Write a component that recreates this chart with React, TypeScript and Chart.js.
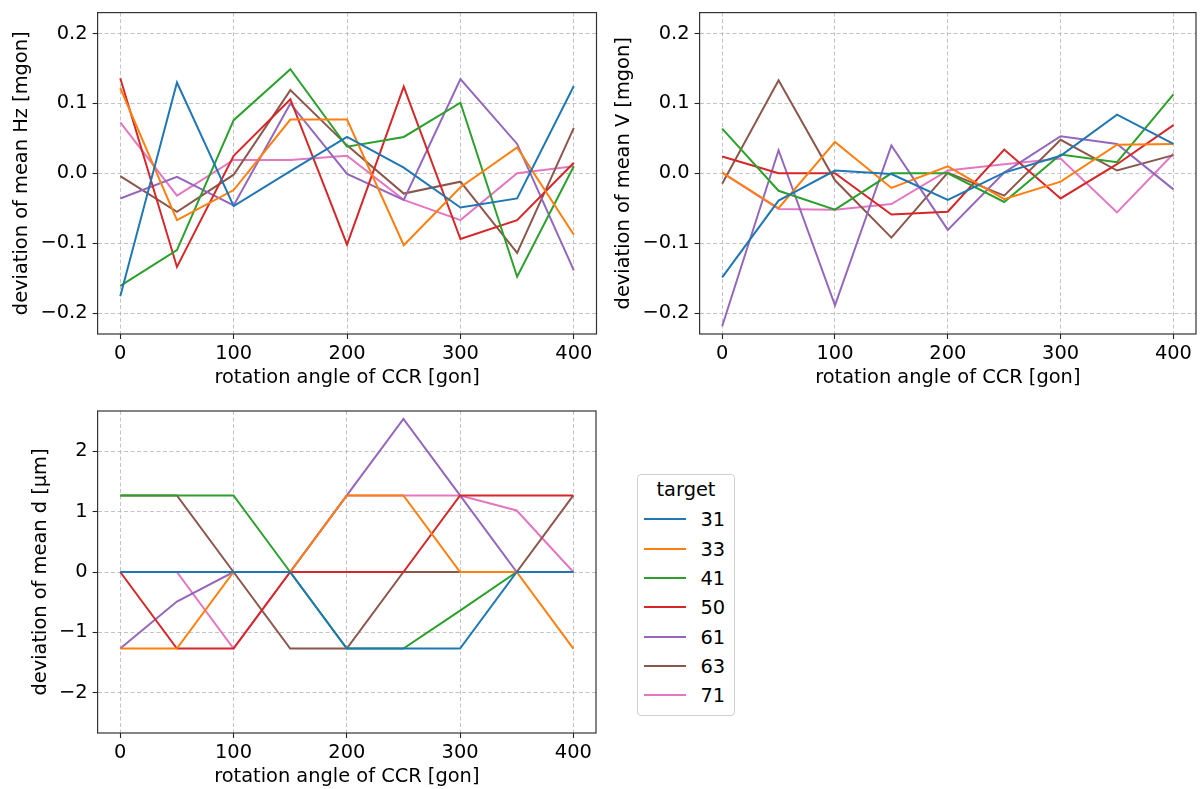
import React, { useEffect, useRef } from "react";
import { Chart, registerables } from "chart.js";

Chart.register(...registerables);

// ---------- data ----------
const angles = [0, 50, 100, 150, 200, 250, 300, 350, 400];
const targets = ["31", "33", "41", "50", "61", "63", "71"];
const colors = ["#1f77b4", "#ff7f0e", "#2ca02c", "#d62728", "#9467bd", "#8c564b", "#e377c2"];

const xTicks = [0, 100, 200, 300, 400];
const xTickLabels = ["0", "100", "200", "300", "400"];
const mgonTicks = [-0.2, -0.1, 0, 0.1, 0.2];
const mgonTickLabels = ["\u22120.2", "\u22120.1", "0.0", "0.1", "0.2"];
const umTicks = [-2, -1, 0, 1, 2];
const umTickLabels = ["\u22122", "\u22121", "0", "1", "2"];

const xTitle = "rotation angle of CCR [gon]";
const hzTitle = "deviation of mean Hz [mgon]";
const vTitle = "deviation of mean V [mgon]";
const dTitle = "deviation of mean d [µm]";

// deviation of mean Hz [mgon]
const hz31 = [-0.176, 0.13, -0.047, 0.003, 0.052, 0.008, -0.049, -0.036, 0.125];
const hz33 = [0.122, -0.067, -0.024, 0.077, 0.077, -0.103, -0.02, 0.037, -0.088];
const hz41 = [-0.161, -0.11, 0.076, 0.149, 0.038, 0.052, 0.101, -0.148, 0.01];
const hz50 = [0.136, -0.134, 0.025, 0.106, -0.102, 0.124, -0.094, -0.067, 0.015];
const hz61 = [-0.036, -0.005, -0.046, 0.1, -0.001, -0.038, 0.135, 0.042, -0.139];
const hz63 = [-0.004, -0.055, -0.002, 0.119, 0.04, -0.029, -0.012, -0.114, 0.065];
const hz71 = [0.073, -0.032, 0.019, 0.019, 0.025, -0.038, -0.067, 0.0, 0.01];

// deviation of mean V [mgon]
const v31 = [-0.149, -0.039, 0.004, -0.001, -0.038, 0.001, 0.025, 0.084, 0.042];
const v33 = [0.001, -0.05, 0.045, -0.021, 0.01, -0.037, -0.012, 0.041, 0.042];
const v41 = [0.064, -0.025, -0.052, 0.0, 0.0, -0.041, 0.027, 0.016, 0.113];
const v50 = [0.024, 0.0, 0.0, -0.059, -0.055, 0.034, -0.036, 0.013, 0.069];
const v61 = [-0.219, 0.033, -0.189, 0.04, -0.081, 0.001, 0.053, 0.042, -0.023];
const v63 = [-0.015, 0.133, -0.01, -0.092, 0.001, -0.032, 0.048, 0.004, 0.026];
const v71 = [0.001, -0.051, -0.052, -0.044, 0.004, 0.013, 0.021, -0.056, 0.028];

// deviation of mean d [µm]
const d31 = [0, 0, 0, 0, -1.27, -1.27, -1.27, 0, 0];
const d33 = [-1.27, -1.27, 0, 0, 1.27, 1.27, 0, 0, -1.27];
const d41 = [1.27, 1.27, 1.27, 0, -1.27, -1.27, -0.64, 0, 0];
const d50 = [0, -1.27, -1.27, 0, 0, 0, 1.27, 1.27, 1.27];
const d61 = [-1.27, -0.49, 0, 0, 1.27, 2.54, 1.27, 0, 0];
const d63 = [1.27, 1.27, 0, -1.27, -1.27, 0, 0, 0, 1.27];
const d71 = [0, 0, -1.27, 0, 1.27, 1.27, 1.27, 1.02, 0];

const hzSeries = [hz31, hz33, hz41, hz50, hz61, hz63, hz71];
const vSeries = [v31, v33, v41, v50, v61, v63, v71];
const dSeries = [d31, d33, d41, d50, d61, d63, d71];

// ---------- styling ----------
const FONT = "'DejaVu Sans', sans-serif";
const FS = 19.4;

const spinePlugin = {
  id: "spines",
  afterDatasetsDraw(chart: any) {
    const { ctx, chartArea } = chart;
    ctx.save();
    ctx.strokeStyle = "#333";
    ctx.lineWidth = 1.2;
    ctx.strokeRect(chartArea.left, chartArea.top, chartArea.right - chartArea.left, chartArea.bottom - chartArea.top);
    ctx.restore();
  },
};

type PanelProps = {
  left: number;
  top: number;
  width: number;
  height: number;
  padTop: number;
  padRight: number;
  series: number[][];
  yMin: number;
  yMax: number;
  yTicks: number[];
  yTickLabels: string[];
  yTitle: string;
  yTitlePad: number;
};

function zeroPad(s: any) {
  s.paddingTop = 0;
  s.paddingBottom = 0;
  s.paddingLeft = 0;
  s.paddingRight = 0;
}

function Panel(p: PanelProps) {
  const ref = useRef<HTMLCanvasElement>(null);
  useEffect(() => {
    if (!ref.current) return;
    const gridCommon = {
      color: "rgba(176,176,176,0.75)",
      lineWidth: 1,
      drawTicks: true,
      tickLength: 5,
      tickColor: "#222",
      tickWidth: 1.1,
      tickBorderDash: [],
    };
    const borderCommon = { display: false, dash: [4, 2.5] };
    const chart = new Chart(ref.current, {
      type: "line",
      data: {
        datasets: p.series.map((vals, i) => ({
          label: targets[i],
          data: angles.map((a, j) => ({ x: a, y: vals[j] })),
          borderColor: colors[i],
          backgroundColor: colors[i],
          borderWidth: 2,
          pointRadius: 0,
          fill: false,
          tension: 0,
        })),
      },
      options: {
        animation: false,
        responsive: false,
        maintainAspectRatio: false,
        layout: { padding: { left: 0, top: p.padTop, right: p.padRight, bottom: 0 } },
        plugins: { legend: { display: false }, tooltip: { enabled: false } },
        scales: {
          x: {
            type: "linear",
            min: -20,
            max: 420,
            afterBuildTicks: (s: any) => {
              s.ticks = xTicks.map((v) => ({ value: v }));
            },
            afterFit: (s: any) => {
              s.height = 56;
              zeroPad(s);
            },
            ticks: {
              callback: (_v: any, i: number) => xTickLabels[i],
              font: { family: FONT, size: FS },
              color: "#000",
              padding: 3,
              maxRotation: 0,
            },
            title: {
              display: true,
              text: xTitle,
              font: { family: FONT, size: FS },
              color: "#000",
              padding: { top: 0, bottom: 0.5 },
            },
            grid: gridCommon,
            border: borderCommon,
          },
          y: {
            type: "linear",
            min: p.yMin,
            max: p.yMax,
            afterBuildTicks: (s: any) => {
              s.ticks = p.yTicks.map((v) => ({ value: v }));
            },
            afterFit: (s: any) => {
              s.width = 97.6;
              zeroPad(s);
            },
            ticks: {
              callback: (_v: any, i: number) => p.yTickLabels[i],
              font: { family: FONT, size: FS },
              color: "#000",
              padding: 5,
            },
            title: {
              display: true,
              text: p.yTitle,
              font: { family: FONT, size: FS },
              color: "#000",
              padding: { top: p.yTitlePad, bottom: 0 },
            },
            grid: gridCommon,
            border: borderCommon,
          },
        },
      } as any,
      plugins: [spinePlugin],
    });
    return () => chart.destroy();
  }, []);
  return (
    <canvas
      ref={ref}
      width={p.width}
      height={p.height}
      style={{ position: "absolute", left: p.left, top: p.top, width: p.width, height: p.height }}
    />
  );
}

function Legend() {
  const boxLeft = 637;
  const boxTop = 474;
  const firstBaseline = 526.7;
  const step = 29.33;
  return (
    <div
      style={{
        position: "absolute",
        left: boxLeft,
        top: boxTop,
        width: 96,
        height: 240,
        border: "1px solid #d0d0d0",
        borderRadius: 4,
        background: "#fff",
        fontFamily: FONT,
        fontSize: FS,
        lineHeight: `${FS}px`,
        color: "#000",
      }}
    >
      <div style={{ position: "absolute", left: 0, width: 96, top: 496.7 - 16.4 - boxTop - 1, textAlign: "center" }}>
        target
      </div>
      {targets.map((t, i) => {
        const base = firstBaseline + i * step - boxTop - 1;
        return (
          <React.Fragment key={t}>
            <div
              style={{
                position: "absolute",
                left: 644 - boxLeft - 1,
                top: base - 7.4 - 1,
                width: 42,
                height: 2,
                background: colors[i],
              }}
            />
            <div style={{ position: "absolute", left: 700.5 - boxLeft - 1, top: base - 16.4 }}>{t}</div>
          </React.Fragment>
        );
      })}
    </div>
  );
}

export default function App() {
  return (
    <div style={{ position: "absolute", left: 0, top: 0, width: 1200, height: 789, background: "#fff" }}>
      <Panel
        left={0}
        top={0}
        width={600}
        height={390}
        padTop={12.6}
        padRight={3.5}
        series={hzSeries}
        yMin={-0.23}
        yMax={0.23}
        yTicks={mgonTicks}
        yTickLabels={mgonTickLabels}
        yTitle={hzTitle}
        yTitlePad={10}
      />
      <Panel
        left={602}
        top={0}
        width={598}
        height={390}
        padTop={12.6}
        padRight={4}
        series={vSeries}
        yMin={-0.23}
        yMax={0.23}
        yTicks={mgonTicks}
        yTickLabels={mgonTickLabels}
        yTitle={vTitle}
        yTitlePad={10}
      />
      <Panel
        left={0}
        top={400}
        width={600}
        height={389}
        padTop={11}
        padRight={4}
        series={dSeries}
        yMin={-2.67}
        yMax={2.67}
        yTicks={umTicks}
        yTickLabels={umTickLabels}
        yTitle={dTitle}
        yTitlePad={29}
      />
      <Legend />
    </div>
  );
}
